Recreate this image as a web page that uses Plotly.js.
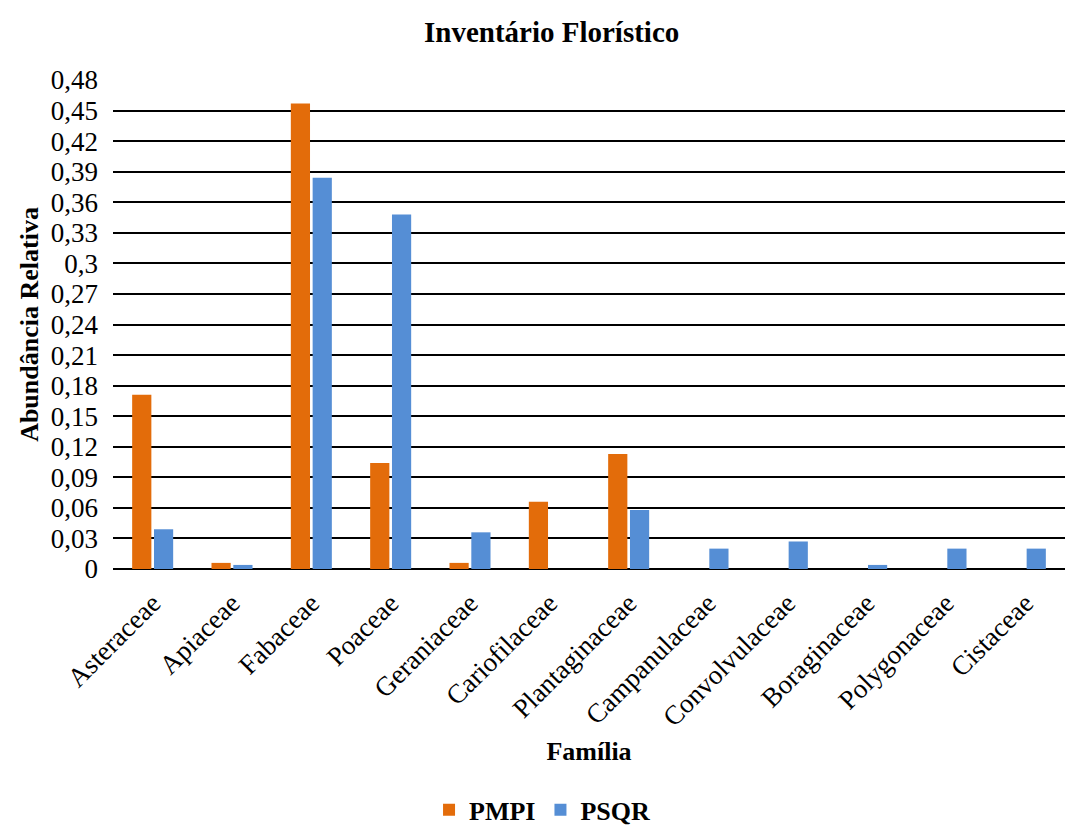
<!DOCTYPE html>
<html>
<head>
<meta charset="utf-8">
<script src="https://cdn.plot.ly/plotly-3.0.1.min.js"></script>
<style>html,body{margin:0;padding:0;background:#fff;}#chart{width:1067px;height:835px;}</style>
</head>
<body>
<div id="chart"></div>
<script>
const families = ["Asteraceae","Apiaceae","Fabaceae","Poaceae","Geraniaceae","Cariofilaceae","Plantaginaceae","Campanulaceae","Convolvulaceae","Boraginaceae","Polygonaceae","Cistaceae"];
const pmpi = [0.171, 0.006, 0.457, 0.104, 0.006, 0.066, 0.113, 0, 0, 0, 0, 0];
const psqr = [0.039, 0.004, 0.384, 0.348, 0.036, 0, 0.058, 0.020, 0.027, 0.004, 0.020, 0.020];
const tickVals = [0,0.03,0.06,0.09,0.12,0.15,0.18,0.21,0.24,0.27,0.3,0.33,0.36,0.39,0.42,0.45,0.48];

const font = "Liberation Serif";
const traces = [
  {type:"bar", name:"PMPI", x:families, y:pmpi, marker:{color:"#E36C0A"}},
  {type:"bar", name:"PSQR", x:families, y:psqr, marker:{color:"#558ED5"}}
];
const layout = {
  width:1067, height:835,
  paper_bgcolor:"#fff", plot_bgcolor:"#fff",
  margin:{l:113, r:2, t:80, b:266, autoexpand:false},
  separators:",.",
  barmode:"group", bargap:0.45, bargroupgap:0.12,
  font:{family:font, size:26, color:"#000"},
  title:{text:"<b>Inventário Florístico</b>", font:{family:font, size:29, color:"#000"}, x:0.517, xref:"container", xanchor:"center", y:0.962, yanchor:"middle"},
  xaxis:{
    title:{text:"<b>Família</b>", font:{family:font, size:26}, standoff:10},
    tickangle:-45, tickfont:{family:font, size:27}, ticklabelstandoff:12,
    showgrid:false, showline:false, ticks:"", zeroline:false, automargin:false
  },
  yaxis:{
    title:{text:"<b>Abundância Relativa</b>", font:{family:font, size:26}, standoff:4},
    range:[0,0.48], tickvals:tickVals, tickfont:{family:font, size:27}, ticklabelstandoff:14,
    showgrid:true, gridcolor:"#000", gridwidth:2, zeroline:true, zerolinecolor:"#000", zerolinewidth:2, showline:false, ticks:"", automargin:false
  },
  showlegend:true,
  legend:{orientation:"h", xref:"container", x:0.508, xanchor:"center", yref:"container", y:0.002, yanchor:"bottom", font:{family:font, size:26, weight:"bold"}, itemwidth:30, traceorder:"normal"}
};
Plotly.newPlot("chart", traces, layout, {displayModeBar:false, staticPlot:true});
</script>
</body>
</html>
